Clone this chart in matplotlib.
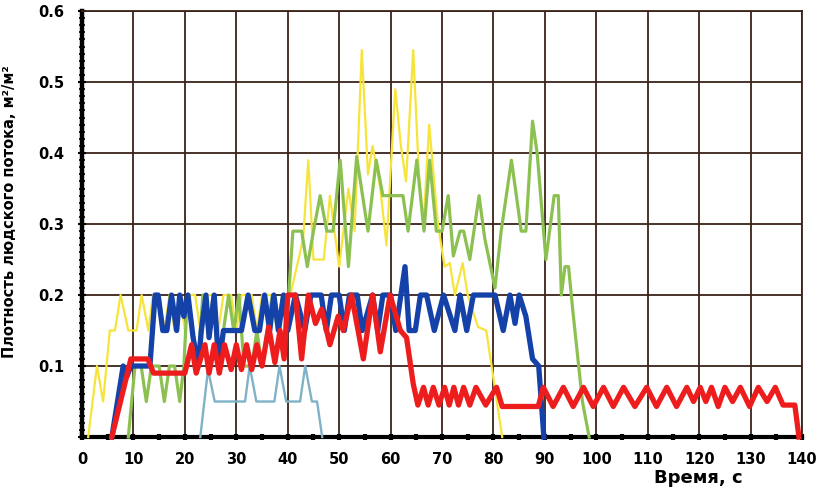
import matplotlib
matplotlib.use("Agg")
import matplotlib.pyplot as plt
from matplotlib.ticker import MultipleLocator, FixedLocator

# time, s
yellow_t = [1.2, 2.9, 4.1, 5.4, 6.4, 7.5, 9.0, 10.6, 11.6, 12.9, 13.8, 15.0, 16.0, 17.0, 18.0, 19.0,
            20.0, 21.0, 22.0, 23.0, 24.0, 25.5, 26.5, 27.5, 29.0, 30.0, 31.0, 33.0, 34.0, 35.0, 37.0,
            38.0, 39.0, 40.5, 42.4, 43.0, 44.0, 45.0, 47.0, 48.2, 50.0, 51.8, 53.0, 54.4, 55.6, 56.5,
            58.0, 59.2, 60.9, 62.0, 63.0, 64.4, 65.5, 66.4, 67.5, 69.2, 70.5, 71.5, 72.5, 74.0, 75.0,
            77.0, 78.6, 81.7]
yellow_v = [0, 0.1, 0.05, 0.15, 0.15, 0.2, 0.15, 0.15, 0.2, 0.15, 0.2, 0.2, 0.15, 0.2, 0.15, 0.2,
            0.15, 0.2, 0.2, 0.15, 0.2, 0.2, 0.15, 0.2, 0.2, 0.15, 0.2, 0.2, 0.15, 0.2, 0.2,
            0.15, 0.2, 0.2, 0.26, 0.28, 0.39, 0.25, 0.25, 0.34, 0.24, 0.35, 0.29, 0.545, 0.37, 0.41,
            0.35, 0.27, 0.49, 0.41, 0.36, 0.545, 0.37, 0.3, 0.44, 0.3, 0.24, 0.245, 0.2, 0.245, 0.2,
            0.155, 0.15, 0]

green_t = [9.0, 10.3, 11.5, 12.5, 13.5, 15.0, 16.0, 17.0, 18.0, 19.0, 19.8, 20.5, 21.5, 22.5, 23.5,
           24.5, 25.5, 26.5, 27.5, 28.5, 29.5, 30.5, 31.5, 33.0, 34.0, 35.0, 36.0, 37.0, 38.0, 39.0,
           40.0, 41.0, 42.7, 43.8, 45.0, 46.3, 47.6, 48.8, 50.2, 51.8, 53.4, 55.6, 57.2, 58.5, 62.4,
           63.4, 65.1, 66.5, 67.6, 68.9, 70.0, 71.2, 72.2, 73.5, 74.2, 75.4, 77.2, 78.3, 80.3, 81.5,
           83.5, 85.4, 86.3, 87.6, 88.5, 90.2, 91.8, 92.6, 93.2, 93.9, 94.6, 95.4, 97.3, 98.6]
green_v = [0, 0.1, 0.1, 0.05, 0.1, 0.1, 0.05, 0.1, 0.1, 0.05, 0.1, 0.2, 0.15, 0.1, 0.2,
           0.15, 0.2, 0.1, 0.15, 0.2, 0.15, 0.2, 0.1, 0.1, 0.15, 0.1, 0.15, 0.2, 0.15, 0.2,
           0.18, 0.29, 0.29, 0.24, 0.29, 0.34, 0.29, 0.29, 0.39, 0.24, 0.395, 0.29, 0.39, 0.34, 0.34,
           0.29, 0.39, 0.29, 0.39, 0.29, 0.29, 0.34, 0.255, 0.29, 0.29, 0.25, 0.34, 0.28, 0.21, 0.29,
           0.39, 0.29, 0.29, 0.445, 0.4, 0.25, 0.34, 0.34, 0.2, 0.24, 0.24, 0.18, 0.05, 0]

lightblue_t = [23.0, 24.5, 25.8, 31.7, 32.6, 33.9, 37.4, 38.4, 39.7, 42.4, 43.4, 44.7, 45.7, 46.7]
lightblue_v = [0, 0.095, 0.05, 0.05, 0.1, 0.05, 0.05, 0.1, 0.05, 0.05, 0.1, 0.05, 0.05, 0]

blue_t = [5.8, 8.0, 8.7, 9.5, 13.2, 14.2, 14.8, 15.7, 16.5, 17.4, 18.4, 19.0, 19.8, 20.6, 21.6,
          22.6, 23.2, 24.1, 24.7, 25.7, 26.6, 27.5, 31.0, 32.3, 33.6, 34.5, 35.5, 36.5, 37.3, 38.2,
          39.2, 40.0, 41.5, 43.3, 44.5, 46.5, 47.5, 48.5, 50.0, 51.0, 52.0, 53.5, 54.5, 56.5, 57.5,
          58.5, 60.0, 61.0, 62.0, 62.8, 63.6, 64.8, 65.8, 67.0, 68.5, 70.3, 72.5, 73.5, 74.8, 76.1,
          80.3, 81.9, 83.2, 84.2, 85.0, 86.3, 87.6, 88.8, 89.8]
blue_v = [0, 0.1, 0.085, 0.1, 0.1, 0.2, 0.2, 0.15, 0.15, 0.2, 0.15, 0.2, 0.17, 0.2, 0.14,
          0.1, 0.15, 0.2, 0.14, 0.2, 0.1, 0.15, 0.15, 0.2, 0.15, 0.15, 0.2, 0.15, 0.2, 0.15,
          0.2, 0.15, 0.2, 0.15, 0.2, 0.2, 0.15, 0.2, 0.2, 0.15, 0.2, 0.2, 0.15, 0.2, 0.15,
          0.2, 0.2, 0.15, 0.2, 0.24, 0.15, 0.15, 0.2, 0.2, 0.15, 0.2, 0.15, 0.2, 0.15, 0.2,
          0.2, 0.15, 0.2, 0.16, 0.2, 0.17, 0.11, 0.1, 0]

red_t = [5.8, 9.5, 12.8, 13.9, 20.0, 21.3, 22.2, 23.9, 24.7, 25.7, 26.7, 27.7, 29.0, 30.0, 31.0,
         32.0, 33.0, 34.0, 35.0, 36.3, 37.5, 38.5, 39.3, 40.0, 41.5, 42.7, 44.0, 45.4, 46.6, 48.2,
         49.8, 50.8, 52.4, 54.7, 56.5, 58.0, 59.9, 61.9, 63.1, 64.4, 65.3, 66.4, 67.3, 68.3, 69.4,
         70.5, 71.4, 72.3, 73.2, 74.2, 75.4, 76.6, 78.5, 80.6, 81.7, 88.7, 89.7, 91.6, 93.6, 95.5,
         97.5, 99.4, 101.4, 103.3, 105.3, 107.5, 109.8, 111.7, 113.7, 115.6, 117.6, 118.9, 120.2,
         121.3, 122.4, 123.7, 125.0, 126.5, 128.0, 129.8, 131.5, 133.2, 134.8, 136.3, 138.6, 139.4]
red_v = [0, 0.11, 0.11, 0.09, 0.09, 0.13, 0.09, 0.13, 0.09, 0.13, 0.09, 0.13, 0.095, 0.13, 0.095,
         0.13, 0.095, 0.13, 0.1, 0.155, 0.105, 0.15, 0.11, 0.2, 0.2, 0.11, 0.2, 0.16, 0.18, 0.13,
         0.17, 0.15, 0.2, 0.11, 0.2, 0.12, 0.2, 0.15, 0.14, 0.075, 0.045, 0.07, 0.045, 0.07, 0.045,
         0.07, 0.045, 0.07, 0.045, 0.07, 0.045, 0.07, 0.045, 0.07, 0.043, 0.043, 0.07, 0.043, 0.07, 0.043,
         0.07, 0.043, 0.07, 0.043, 0.07, 0.043, 0.07, 0.043, 0.07, 0.043, 0.07, 0.05, 0.07,
         0.05, 0.07, 0.043, 0.07, 0.05, 0.07, 0.043, 0.07, 0.05, 0.07, 0.045, 0.045, 0]

x_ticks = list(range(0, 141, 10))
y_ticks = [0.1, 0.2, 0.3, 0.4, 0.5, 0.6]

fig = plt.figure(figsize=(8.21, 4.97), dpi=100)
ax = fig.add_axes([0.0999, 0.1207, 0.877, 0.857])

# bottom to top, like the original
ax.plot(yellow_t, yellow_v, color="#f7e43a", lw=1.6, zorder=3, clip_on=False)
ax.plot(green_t, green_v, color="#8cc152", lw=2.3, zorder=4, clip_on=False)
ax.plot(lightblue_t, lightblue_v, color="#7fb2c6", lw=1.7, zorder=5, clip_on=False)
ax.plot(blue_t, blue_v, color="#1542a8", lw=3.8, zorder=6, solid_joinstyle="round", clip_on=False)
ax.plot(red_t, red_v, color="#ee1d1d", lw=3.8, zorder=7, solid_joinstyle="round", clip_on=False)

ax.set_xlim(0, 140)
ax.set_ylim(0, 0.6)

ax.xaxis.set_major_locator(FixedLocator(x_ticks))
ax.xaxis.set_minor_locator(MultipleLocator(5))
ax.yaxis.set_major_locator(FixedLocator([0] + y_ticks))
ax.yaxis.set_minor_locator(MultipleLocator(0.01))
ax.set_xticklabels([str(t) for t in x_ticks])
ax.set_yticklabels([""] + ["%.1f" % v for v in y_ticks])

ax.grid(True, which="major", color="#3a2218", lw=1.3, zorder=1)
ax.set_axisbelow(True)

for s in ["top", "right"]:
    ax.spines[s].set_color("#3a2218")
    ax.spines[s].set_linewidth(1.3)
ax.spines["left"].set_linewidth(3.2)
ax.spines["bottom"].set_linewidth(3)
ax.spines["left"].set_color("black")
ax.spines["bottom"].set_color("black")

ax.tick_params(axis="x", which="both", direction="inout", length=5, width=3, pad=8, colors="black")
ax.tick_params(axis="y", which="major", direction="inout", length=6, width=1.5, pad=10)
ax.tick_params(axis="y", which="minor", direction="inout", length=5, width=1.2)
ax.tick_params(axis="both", labelsize=10.5)
for lab in ax.get_xticklabels() + ax.get_yticklabels():
    lab.set_fontweight("bold")
    lab.set_family("DejaVu Sans")

ax.set_xlabel("Время, с", fontsize=13, fontweight="bold")
ax.xaxis.set_label_coords(0.856, -0.075)
ax.set_ylabel("Плотность людского потока, м²/м²", fontsize=10.5, fontweight="bold")
ax.yaxis.set_label_coords(-0.09, 0.528)

fig.savefig("out.png", dpi=100, facecolor="white")
